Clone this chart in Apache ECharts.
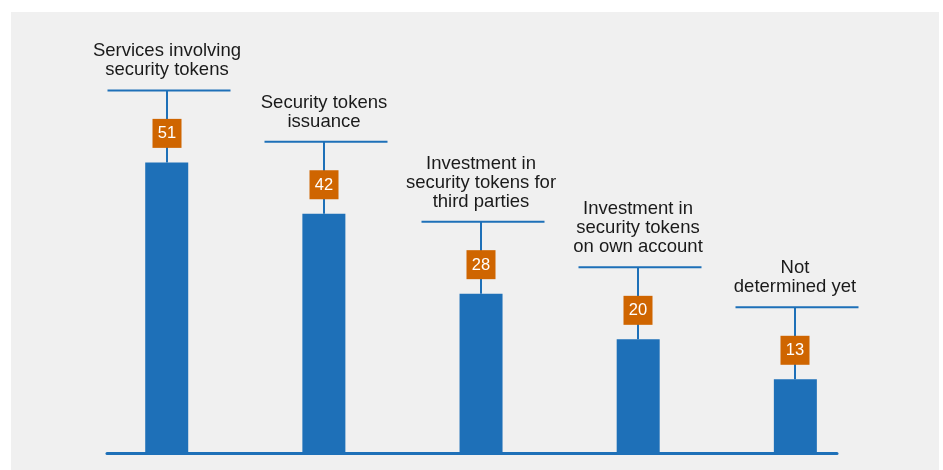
<!DOCTYPE html>
<html>
<head>
<meta charset="utf-8">
<script src="https://cdn.jsdelivr.net/npm/echarts@6/dist/echarts.min.js"></script>
<style>
  html, body { margin: 0; padding: 0; background: #ffffff; }
  #chart { width: 943px; height: 470px; }
</style>
</head>
<body>
<div id="chart"></div>
<script>
// Share of respondents by planned activity with security tokens
const categories = [
  'Services involving\nsecurity tokens',
  'Security tokens\nissuance',
  'Investment in\nsecurity tokens for\nthird parties',
  'Investment in\nsecurity tokens\non own account',
  'Not\ndetermined yet'
];
const values = [51, 42, 28, 20, 13];

const BLUE = '#1e70b8';
const ORANGE = '#cf6500';
const FONT = '"Liberation Sans", Arial, Helvetica, sans-serif';

const points = values.map((v, i) => [i, v]);

const chart = echarts.init(document.getElementById('chart'), null, { renderer: 'canvas' });

chart.setOption({
  backgroundColor: '#ffffff',
  animation: false,
  graphic: [{
    type: 'rect',
    z: -10,
    shape: { x: 11, y: 12, width: 928, height: 470 },
    style: { fill: '#f0f0f0' }
  }],
  grid: { left: 107, right: 106, top: 111, bottom: 16.5 },
  xAxis: {
    type: 'value',
    min: -0.38,
    max: 4.265,
    axisLine: { show: true, onZero: false, lineStyle: { color: BLUE, width: 3 } },
    axisTick: { show: false },
    axisLabel: { show: false },
    splitLine: { show: false }
  },
  yAxis: {
    type: 'value',
    min: 0,
    max: 60,
    show: false,
    splitLine: { show: false }
  },
  series: [
    {
      type: 'bar',
      data: points,
      barWidth: 43,
      itemStyle: { color: BLUE },
      z: 2
    },
    {
      // leader line, value badge and category caption above each bar
      type: 'custom',
      data: points,
      clip: false,
      z: 3,
      renderItem: function (params, api) {
        const v = api.value(1);
        const p = api.coord([api.value(0), v]);
        const x = Math.round(p[0]);
        const top = p[1];
        const hy = top - 72;
        const by = top - 29;
        return {
          type: 'group',
          children: [
            {
              type: 'line',
              shape: { x1: x, y1: hy, x2: x, y2: top },
              style: { stroke: BLUE, lineWidth: 2 }
            },
            {
              type: 'line',
              shape: { x1: x - 59.5, y1: hy, x2: x + 63.5, y2: hy },
              style: { stroke: BLUE, lineWidth: 2 }
            },
            {
              type: 'rect',
              shape: { x: x - 14.5, y: by - 14.5, width: 29, height: 29 },
              style: { fill: ORANGE }
            },
            {
              type: 'text',
              style: {
                x: x,
                y: by + 0.5,
                text: String(v),
                fill: '#ffffff',
                font: '16.5px ' + FONT,
                textAlign: 'center',
                textVerticalAlign: 'middle'
              }
            },
            {
              type: 'text',
              style: {
                x: x,
                y: hy - 10.5,
                text: categories[params.dataIndex],
                fill: '#1a1a1a',
                font: '18.5px ' + FONT,
                lineHeight: 19,
                textAlign: 'center',
                textVerticalAlign: 'bottom'
              }
            }
          ]
        };
      }
    }
  ]
});
</script>
</body>
</html>
